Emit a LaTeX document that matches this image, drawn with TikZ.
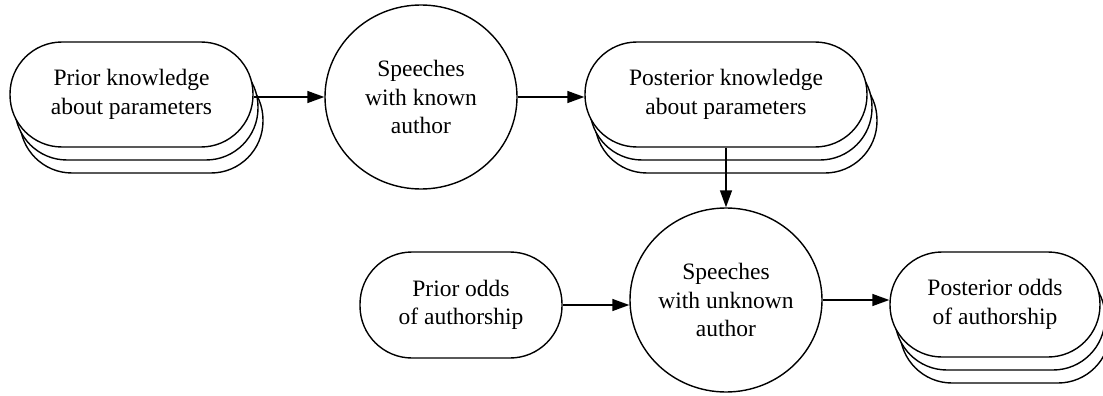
\documentclass[tikz,border=0pt]{standalone}
\usepackage{fontspec}
\setmainfont{Liberation Serif}
\usetikzlibrary{shapes.geometric,arrows.meta}
\begin{document}
\begin{tikzpicture}[x=1pt,y=-1pt,
  every node/.style={font=\fontsize{23.5}{28.5}\selectfont, align=center, line width=1.4pt},
  stad/.style={draw, fill=white, rectangle, rounded corners=52pt, minimum height=105pt, inner sep=0pt},
  oval/.style={draw, fill=white, ellipse, inner sep=0pt, minimum width=192pt, minimum height=184pt},
  arr/.style={line width=1.4pt, -{Triangle[length=17pt,width=12pt]}}
]
\useasboundingbox (0,0) rectangle (1103,396);
% Prior knowledge stack
\node[stad, minimum width=243pt] (n1b) at (141.5,120.5) {};
\node[stad, minimum width=243pt] (n1a) at (136.5,107.5) {};
\node[stad, minimum width=243pt] (n1) at (131.5,94.5) {Prior knowledge\\about parameters};
% Speeches with known author
\node[oval] (c1) at (421,97) {Speeches\\with known\\author};
% Posterior knowledge stack
\node[stad, minimum width=282pt] (n3b) at (736,120.5) {};
\node[stad, minimum width=282pt] (n3a) at (731,107.5) {};
\node[stad, minimum width=282pt] (n3) at (726,94.5) {Posterior knowledge\\about parameters};
% Speeches with unknown author
\node[oval] (c2) at (726,300) {Speeches\\with unknown\\author};
% Prior odds
\node[stad, minimum width=202pt, minimum height=106pt] (p1) at (461,305) {Prior odds\\of authorship};
% Posterior odds stack
\node[stad, minimum width=210pt] (q1b) at (1005,330.5) {};
\node[stad, minimum width=210pt] (q1a) at (1000,317.5) {};
\node[stad, minimum width=210pt] (q1) at (995,304.5) {Posterior odds\\of authorship};
% connectors
\draw[arr] (n1.east |- c1.west) -- (c1.west);
\draw[arr] (c1.east) -- (c1.east -| n3.west);
\draw[arr] (n3.south) -- (c2.north);
\draw[arr] (p1.east) -- (p1.east -| c2.west);
\draw[arr] (c2.east) -- (c2.east -| q1.west);
\end{tikzpicture}
\end{document}
